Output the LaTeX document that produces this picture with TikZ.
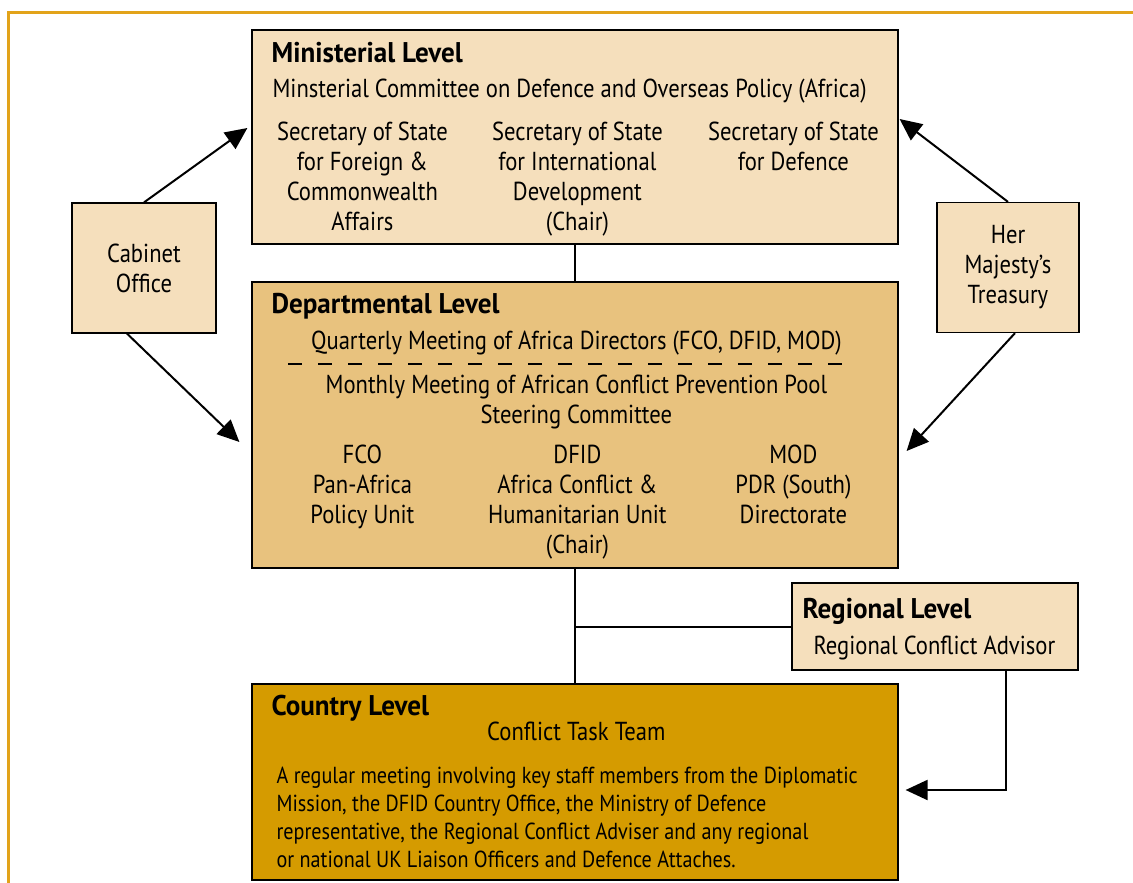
\documentclass[tikz,border=0pt]{standalone}
\usepackage{fontspec}
\setmainfont{PT Sans}[FakeStretch=0.87]
\newfontfamily\titlefont{PT Sans}[FakeStretch=0.95]
\usepackage{tikz}
\usetikzlibrary{shapes, arrows.meta, positioning}
\definecolor{minifill}{HTML}{F5DFBC}
\definecolor{deptfill}{HTML}{E8C27E}
\definecolor{countryfill}{HTML}{D59B00}
\definecolor{framecol}{HTML}{E2A31A}
\tikzstyle{levelbox} = [rectangle, draw=black, line width=1.2pt, inner sep=0pt]
\tikzstyle{minibox} = [levelbox, minimum width=646pt, minimum height=214pt, fill=minifill]
\tikzstyle{deptbox} = [levelbox, minimum width=646pt, minimum height=286pt, fill=deptfill]
\tikzstyle{countrybox} = [levelbox, minimum width=646pt, minimum height=196pt, fill=countryfill]
\tikzstyle{regbox} = [levelbox, minimum width=286pt, minimum height=87pt, fill=minifill]
\tikzstyle{sidebox} = [levelbox, minimum width=144pt, minimum height=130pt, fill=minifill, align=center, text centered, font=\fontsize{26}{30}\selectfont]
\tikzstyle{title} = [inner sep=0pt, anchor=base west, font=\titlefont\fontsize{28.5}{30}\selectfont\bfseries]
\tikzstyle{txt} = [inner sep=0pt, font=\fontsize{26}{30}\selectfont]
\tikzstyle{col} = [txt, anchor=north, align=center]
\tikzstyle{line} = [line width=2pt]
\tikzstyle{arrow} = [line width=2pt, -{Triangle[length=22pt,width=20pt]}]
\begin{document}
\begin{tikzpicture}[node distance=288pt]
				\useasboundingbox (-575pt,137pt) rectangle (558pt,-746pt);
				\draw [framecol, line width=3pt] (-566pt,-760pt) -- (-566pt,124pt) -- (570pt,124pt);

				\node (mini) [minibox] {};
				\node (dept) [deptbox, below of=mini] {};
				\node (country) [countrybox, below of=dept, yshift=-69pt] {};
				\node (cabinet) [sidebox, left of=mini, xshift=-143pt, yshift=-131pt] {Cabinet\\Office};
				\node (treasury) [sidebox, right of=mini, xshift=145pt, yshift=-130.5pt, minimum width=142pt] {Her\\Majesty’s\\Treasury};
				\node (regional) [regbox, right of=dept, xshift=72pt, yshift=-201.5pt] {};

				%ministerial level
				\node (minititle) [title] at ([shift={(20pt,-33pt)}]mini.north west) {Ministerial Level};
				\node (minicom) [txt, anchor=base west] at ([shift={(21pt,-68pt)}]mini.north west) {Minsterial Committee on Defence and Overseas Policy (Africa)};
				\node (minifco) [col] at ([shift={(111pt,-92pt)}]mini.north west) {Secretary of State\\for Foreign \&\\Commonwealth\\Affairs};
				\node (minidfid) [col] at ([shift={(326pt,-92pt)}]mini.north west) {Secretary of State\\for International\\Development\\(Chair)};
				\node (minimod) [col] at ([shift={(542pt,-92pt)}]mini.north west) {Secretary of State\\for Defence};

				%departmental level
				\node (depttitle) [title] at ([shift={(20pt,-32pt)}]dept.north west) {Departmental Level};
				\node (deptquart) [txt, anchor=base] at ([shift={(325pt,-68pt)}]dept.north west) {Quarterly Meeting of Africa Directors (FCO, DFID, MOD)};
				\draw [line width=2pt, dash pattern=on 14pt off 16pt] ([shift={(37pt,-83pt)}]dept.north west) -- ([shift={(600pt,-83pt)}]dept.north west);
				\node (deptmonth) [col] at ([shift={(325pt,-93pt)}]dept.north west) {Monthly Meeting of African Conflict Prevention Pool\\Steering Committee};
				\node (deptfco) [col] at ([shift={(111pt,-163pt)}]dept.north west) {FCO\\Pan-Africa\\Policy Unit};
				\node (deptdfid) [col] at ([shift={(326pt,-163pt)}]dept.north west) {DFID\\Africa Conflict \&\\Humanitarian Unit\\(Chair)};
				\node (deptmod) [col] at ([shift={(542pt,-163pt)}]dept.north west) {MOD\\PDR (South)\\Directorate};

				%regional level
				\node (regtitle) [title] at ([shift={(11pt,-36pt)}]regional.north west) {Regional Level};
				\node (regadv) [txt, anchor=base west] at ([shift={(22pt,-72pt)}]regional.north west) {Regional Conflict Advisor};

				%country level
				\node (countrytitle) [title] at ([shift={(20pt,-32pt)}]country.north west) {Country Level};
				\node (countryteam) [txt, anchor=base] at ([shift={(325pt,-57pt)}]country.north west) {Conflict Task Team};
				\node (countrytext) [txt, anchor=north west, align=left, font=\fontsize{23.2}{28}\selectfont] at ([shift={(25pt,-83pt)}]country.north west) {A regular meeting involving key staff members from the Diplomatic\\Mission, the DFID Country Office, the Ministry of Defence\\representative, the Regional Conflict Adviser and any regional\\or national UK Liaison Officers and Defence Attaches.};

				%connectors
				\coordinate (junction) at (regional.west -| dept.south);
				\coordinate (regdrop) at ([xshift=71pt]regional.south);
				\coordinate (countryin) at ([shift={(7pt,-8pt)}]country.east);
				\draw [line](mini) -- (dept);
				\draw [line](dept) -- (country);
				\draw [line](regional.west) -- (junction);
				\draw [arrow](regdrop) |- (countryin);
				\draw [arrow](cabinet.north) -- ([shift={(-4pt,9pt)}]mini.west);
				\draw [arrow]([xshift=-17pt]cabinet.south) -- ([shift={(-12pt,-17pt)}]dept.west);
				\draw [arrow](treasury.north) -- ([shift={(1pt,18pt)}]mini.east);
				\draw [arrow]([xshift=7pt]treasury.south) -- ([shift={(8pt,-26pt)}]dept.east);

			\end{tikzpicture}
\end{document}
